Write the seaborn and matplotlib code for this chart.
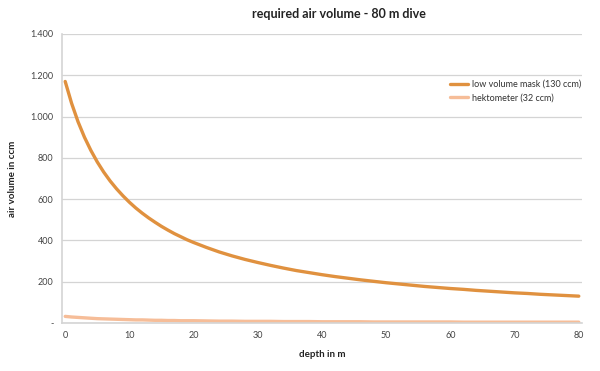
import matplotlib
matplotlib.use("Agg")
import matplotlib.pyplot as plt
import seaborn as sns
import pandas as pd
from matplotlib.ticker import FuncFormatter

depth = [0, 1, 2, 3, 4, 5, 6, 7, 8, 9, 10, 11, 12, 13, 14, 15, 16, 17, 18, 19, 20,
         22, 24, 26, 28, 30, 32, 34, 36, 38, 40,
         42, 44, 46, 48, 50, 52, 54, 56, 58, 60, 62, 64, 66, 68, 70, 72, 74, 76, 78, 80]
mask_130 = [1170, 1064, 975, 900, 836, 780, 731, 688, 650, 616, 585, 557, 532, 509, 488,
            468, 450, 433, 418, 403, 390,
            366, 344, 325, 308, 293, 279, 266, 254, 244, 234,
            225, 217, 209, 202, 195, 189, 183, 177, 172, 167, 163,
            158, 154, 150, 146, 143, 139, 136, 133, 130]
hekto_32 = [32, 29, 27, 25, 23, 21, 20, 19, 18, 17, 16, 15, 15, 14, 13, 13, 12, 12, 11, 11, 11,
            10, 9, 9, 8, 8, 8, 7, 7, 7, 6,
            6, 6, 6, 5, 5, 5, 5, 5, 5, 5, 4, 4, 4, 4, 4, 4, 4, 4, 4, 4]
series_names = ["low volume mask (130 ccm)", "hektometer (32 ccm)"]
x_ticks = [0, 10, 20, 30, 40, 50, 60, 70, 80]
y_ticks = [0, 200, 400, 600, 800, 1000, 1200, 1400]

df = pd.DataFrame({
    "depth": depth * 2,
    "volume": mask_130 + hekto_32,
    "series": [series_names[0]] * len(depth) + [series_names[1]] * len(depth),
})

sns.set_theme(style="white")
plt.rcParams["font.family"] = ["Lato", "DejaVu Sans"]

fig = plt.figure(figsize=(6, 3.71), dpi=100)
ax = fig.add_axes([0.1033, 0.1294, 0.8667, 0.779])

palette = {series_names[0]: "#E0913F", series_names[1]: "#F6BD98"}
sns.lineplot(data=df, x="depth", y="volume", hue="series", palette=palette,
             linewidth=2.4, ax=ax, legend=True)

ax.set_xlim(-0.5, 80.5)
ax.set_ylim(0, 1400)
ax.set_xticks(x_ticks)
ax.set_yticks(y_ticks)

def yfmt(v, pos):
    if v == 0:
        return "-"
    return f"{int(v):,}".replace(",", ".")

ax.yaxis.set_major_formatter(FuncFormatter(yfmt))
ax.tick_params(axis="both", labelsize=6.5, colors="#444444", length=0, pad=6)
ax.grid(axis="y", color="#D4D4D4", linewidth=0.9)
ax.set_axisbelow(True)
for s in ["top", "right"]:
    ax.spines[s].set_visible(False)
for s in ["left", "bottom"]:
    ax.spines[s].set_color("#D4D4D4")
    ax.spines[s].set_linewidth(1.2)

ax.set_xlabel("depth in m", fontsize=7, fontweight="bold", color="#222222", labelpad=7)
ax.set_ylabel("air volume in ccm", fontsize=7, fontweight="bold", color="#222222", labelpad=10)

leg = ax.legend(loc="upper left", bbox_to_anchor=(0.73, 0.87), frameon=False,
                fontsize=6.5, handlelength=2.0, handletextpad=0.5, labelspacing=0.5)
for t in leg.get_texts():
    t.set_color("#333333")

fig.text(0.565, 0.963, "required air volume - 80 m dive", ha="center", va="center",
         fontsize=9, fontweight="bold", color="#222222")

fig.savefig("out.png", dpi=100)
